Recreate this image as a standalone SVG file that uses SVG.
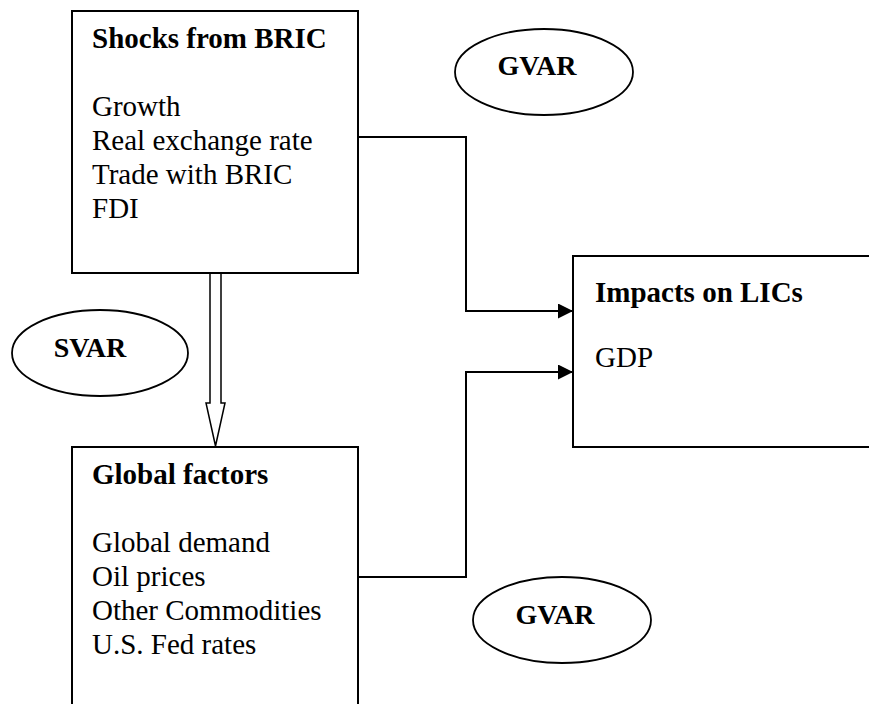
<svg xmlns="http://www.w3.org/2000/svg" width="869" height="704" viewBox="0 0 869 704">
<style>
.box{fill:#fff;stroke:#000;stroke-width:2}
.ell{fill:#fff;stroke:#000;stroke-width:1.8}
.t{font-family:"Liberation Serif","Times New Roman",serif;font-size:29px;fill:#000}
.b{font-weight:bold}
.e{font-family:"Liberation Serif","Times New Roman",serif;font-size:28px;font-weight:bold;fill:#000;text-anchor:middle}
.ln{fill:none;stroke:#000;stroke-width:2}
</style>
<defs>
<marker id="ah" markerWidth="16" markerHeight="16" refX="15" refY="7.5" orient="auto" markerUnits="userSpaceOnUse">
<path d="M0,0 L15,7.5 L0,15 Z" fill="#000"/>
</marker>
</defs>
<rect width="869" height="704" fill="#fff"/>
<g id="shocks">
<rect class="box" x="72" y="11" width="286" height="262"/>
<text class="t b" x="92" y="48">Shocks from BRIC</text>
<text class="t" x="92" y="116">Growth</text>
<text class="t" x="92" y="150">Real exchange rate</text>
<text class="t" x="92" y="184">Trade with BRIC</text>
<text class="t" x="92" y="218">FDI</text>
</g>
<g id="impacts">
<rect class="box" x="573" y="256" width="320" height="191"/>
<text class="t b" x="595" y="302">Impacts on LICs</text>
<text class="t" x="595" y="367">GDP</text>
</g>
<g id="global">
<rect class="box" x="72" y="447" width="286" height="280"/>
<text class="t b" x="92" y="484">Global factors</text>
<text class="t" x="92" y="552">Global demand</text>
<text class="t" x="92" y="586">Oil prices</text>
<text class="t" x="92" y="620">Other Commodities</text>
<text class="t" x="92" y="654">U.S. Fed rates</text>
</g>
<g id="svar">
<ellipse class="ell" cx="100" cy="353" rx="88" ry="43"/>
<text class="e" x="90" y="357">SVAR</text>
</g>
<g id="gvar-top">
<ellipse class="ell" cx="544" cy="72" rx="89" ry="43"/>
<text class="e" x="537" y="75">GVAR</text>
</g>
<g id="gvar-bottom">
<ellipse class="ell" cx="562" cy="620" rx="89" ry="43"/>
<text class="e" x="555" y="624">GVAR</text>
</g>
<g id="connectors">
<path class="ln" d="M358,137 H466 V311 H573" marker-end="url(#ah)"/>
<path class="ln" d="M358,577 H466 V372 H573" marker-end="url(#ah)"/>
<path d="M210,274 V403 H206 L215.5,446 L225,403 H221 V274" fill="#fff" stroke="#000" stroke-width="1.5"/>
</g>
</svg>
